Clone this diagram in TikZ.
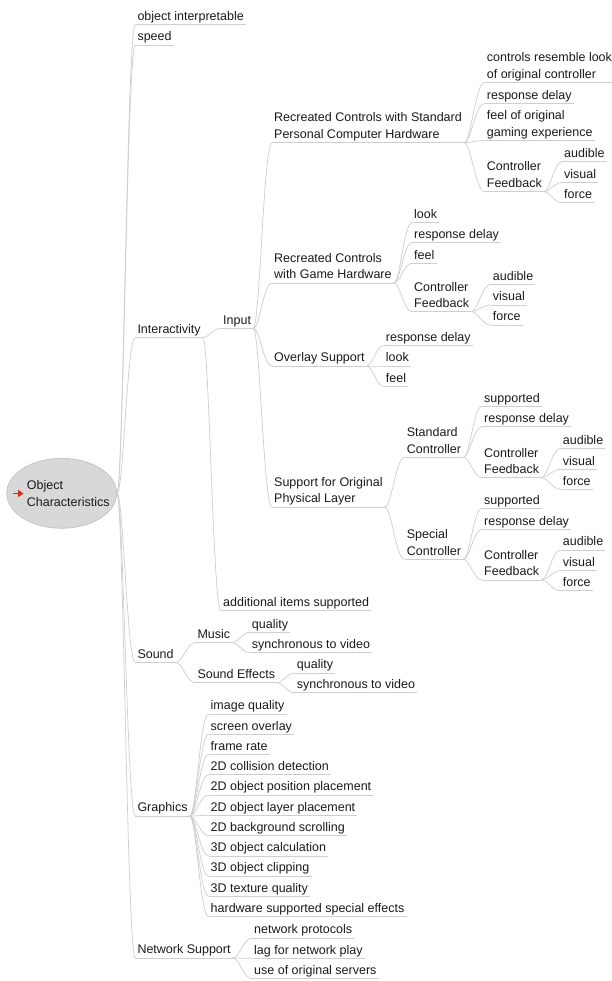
\documentclass[tikz,border=0pt]{standalone}
\usepackage{fontspec}
\setmainfont{Liberation Sans}
\usetikzlibrary{calc,shapes.geometric,arrows.meta}
\definecolor{linegray}{HTML}{CFCFCF}
\definecolor{rootfill}{HTML}{D8D8D8}
\definecolor{rootdraw}{HTML}{BDBDBD}
\definecolor{arrowred}{HTML}{DD2A14}
\definecolor{txt}{HTML}{1A1A1A}
\newcommand\itemfont{\fontsize{12.5}{16.5}\selectfont}
\newcommand\tl[2]{\begin{tabular}[b]{@{}l@{}}#1\\#2\end{tabular}}
\tikzset{
  item/.style={anchor=south west, inner xsep=2pt, inner ysep=0pt, text depth=4pt, font=\itemfont, text=txt},
  uline/.style={draw=linegray, line width=0.75pt},
  conn/.style={draw=linegray, line width=0.75pt},
  rootshape/.style={ellipse, fill=rootfill, draw=rootdraw, line width=0.6pt, minimum width=110pt, minimum height=70pt, inner sep=0pt},
}
\newcommand\nd[4]{\node[item] (#1) at ({#2-2},#3) {#4};\draw[uline] (#1.south west) -- (#1.south east);}
\newcommand\cn[2]{\draw[conn] let \p1=(#1.south east), \p2=(#2.south west) in (\p1) .. controls ({\x1+0.35*(\x2-\x1)},\y1) and ({\x1+0.55*(\x2-\x1)},\y2) .. (\p2);}
\newcommand\cnr[1]{\draw[conn] let \p1=(root.east), \p2=(#1.south west) in (\p1) .. controls ({\x1+0.35*(\x2-\x1)},\y1) and ({\x1+0.55*(\x2-\x1)},\y2) .. (\p2);}
\begin{document}
\begin{tikzpicture}[x=1pt,y=-1pt]
\useasboundingbox (0,0) rectangle (612,981);
% root
\node[rootshape] (root) at (61.7,493.3) {};
\node[anchor=base west, inner sep=0pt, font=\itemfont, text=txt] (roottext) at (26.7,506) {\tl{Object}{Characteristics}};
\draw[arrowred, line width=1.9pt, -{Triangle[length=5.5pt,width=7pt]}] (12.5,493.5) -- (23.5,493.5);
% level 1
\nd{oi}{137.3}{24.3}{object interpretable}
\nd{sp}{137.3}{45}{speed}
\nd{inter}{137.3}{337.5}{Interactivity}
\nd{sound}{137.3}{662.5}{Sound}
\nd{graphics}{137.3}{816}{Graphics}
\nd{net}{137.3}{958}{Network Support}
% interactivity
\nd{input}{223}{328.3}{Input}
\nd{add}{223}{610.7}{additional items supported}
\nd{rcs}{274}{142.7}{\tl{Recreated Controls with Standard}{Personal Computer Hardware}}
\nd{rcg}{274}{283}{\tl{Recreated Controls}{with Game Hardware}}
\nd{ovl}{274}{366}{Overlay Support}
\nd{sup}{274}{507}{\tl{Support for Original}{Physical Layer}}
% rcs
\nd{a1}{486.7}{82.3}{\tl{controls resemble look}{of original controller}}
\nd{a2}{486.7}{103.3}{response delay}
\nd{a3}{486.7}{140.5}{\tl{feel of original}{gaming experience}}
\nd{a4}{486.7}{191.7}{\tl{Controller}{Feedback}}
\nd{a4a}{564}{161.7}{audible}
\nd{a4b}{564}{182.5}{visual}
\nd{a4c}{564}{202.7}{force}
% rcg
\nd{b1}{414}{222.7}{look}
\nd{b2}{414}{242.7}{response delay}
\nd{b3}{414}{263.3}{feel}
\nd{b4}{414}{311.7}{\tl{Controller}{Feedback}}
\nd{b4a}{492.7}{284.3}{audible}
\nd{b4b}{492.7}{305}{visual}
\nd{b4c}{492.7}{325}{force}
% overlay
\nd{c1}{385.7}{345.5}{response delay}
\nd{c2}{385.7}{366}{look}
\nd{c3}{385.7}{386.3}{feel}
% support
\nd{d1}{406.7}{457.3}{\tl{Standard}{Controller}}
\nd{d2}{406.7}{559.3}{\tl{Special}{Controller}}
\nd{d1a}{484}{406.3}{supported}
\nd{d1b}{484}{426.7}{response delay}
\nd{d1c}{484}{477.7}{\tl{Controller}{Feedback}}
\nd{d1ca}{562.7}{448.3}{audible}
\nd{d1cb}{562.7}{469.3}{visual}
\nd{d1cc}{562.7}{489.3}{force}
\nd{d2a}{484}{508.3}{supported}
\nd{d2b}{484}{529.3}{response delay}
\nd{d2c}{484}{580}{\tl{Controller}{Feedback}}
\nd{d2ca}{562.7}{550}{audible}
\nd{d2cb}{562.7}{570.7}{visual}
\nd{d2cc}{562.7}{590.7}{force}
% sound
\nd{music}{197.3}{642.7}{Music}
\nd{sfx}{197.3}{682.7}{Sound Effects}
\nd{m1}{251.7}{632.3}{quality}
\nd{m2}{251.7}{652.5}{synchronous to video}
\nd{s1}{296.7}{673}{quality}
\nd{s2}{296.7}{692.7}{synchronous to video}
% graphics
\foreach \t [count=\i from 0] in {image quality,screen overlay,frame rate,2D collision detection,2D object position placement,2D object layer placement,2D background scrolling,3D object calculation,3D object clipping,3D texture quality,hardware supported special effects}{
  \nd{g\i}{210.5}{714+20.27*\i}{\t}
}
% network
\nd{n1}{254}{938}{network protocols}
\nd{n2}{254}{958.3}{lag for network play}
\nd{n3}{254}{978.7}{use of original servers}
% connectors
\foreach \c in {oi,sp,inter,sound,graphics,net}{\cnr{\c}}
\foreach \c in {input,add}{\cn{inter}{\c}}
\foreach \c in {rcs,rcg,ovl,sup}{\cn{input}{\c}}
\foreach \c in {a1,a2,a3,a4}{\cn{rcs}{\c}}
\foreach \c in {a4a,a4b,a4c}{\cn{a4}{\c}}
\foreach \c in {b1,b2,b3,b4}{\cn{rcg}{\c}}
\foreach \c in {b4a,b4b,b4c}{\cn{b4}{\c}}
\foreach \c in {c1,c2,c3}{\cn{ovl}{\c}}
\foreach \c in {d1,d2}{\cn{sup}{\c}}
\foreach \c in {d1a,d1b,d1c}{\cn{d1}{\c}}
\foreach \c in {d1ca,d1cb,d1cc}{\cn{d1c}{\c}}
\foreach \c in {d2a,d2b,d2c}{\cn{d2}{\c}}
\foreach \c in {d2ca,d2cb,d2cc}{\cn{d2c}{\c}}
\foreach \c in {music,sfx}{\cn{sound}{\c}}
\foreach \c in {m1,m2}{\cn{music}{\c}}
\foreach \c in {s1,s2}{\cn{sfx}{\c}}
\foreach \i in {0,...,10}{\cn{graphics}{g\i}}
\foreach \c in {n1,n2,n3}{\cn{net}{\c}}
\end{tikzpicture}
\end{document}
